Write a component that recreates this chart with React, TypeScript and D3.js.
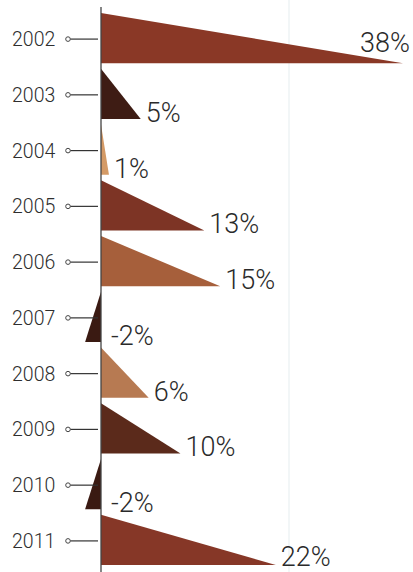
import React from "react";
import * as d3 from "d3";

const years = ["2002", "2003", "2004", "2005", "2006", "2007", "2008", "2009", "2010", "2011"];
const values = [38, 5, 1, 13, 15, -2, 6, 10, -2, 22];
const colors = ["#8a3826", "#3e1c14", "#d49a66", "#7d3425", "#a65f3b", "#3a1a12", "#b77a52", "#5b2a1b", "#3a1a12", "#863727"];

const W = 413;
const H = 572;

export default function App() {
  const x = d3.scaleLinear().domain([0, 38]).range([101, 403]);
  const y = d3.scaleBand<string>().domain(years).range([13, 565]).paddingInner(0.1).paddingOuter(0);
  const bw = y.bandwidth();
  const font = "Roboto, 'Liberation Sans', sans-serif";
  return (
    <svg width={W} height={H} style={{ position: "absolute", left: 0, top: 0, background: "#fff" }}>
      <rect x={0} y={0} width={W} height={H} fill="#ffffff" />
      <line x1={289} x2={289} y1={0} y2={H} stroke="#f2f6f7" strokeWidth={2} />
      {years.map((yr, i) => {
        const v = values[i];
        const top = y(yr)!;
        const bot = top + bw;
        const x0 = x(0);
        const xt = x(v);
        const path = d3.path();
        path.moveTo(x0, top);
        path.lineTo(xt, bot);
        path.lineTo(x0, bot);
        path.closePath();
        const label = `${v}%`;
        const overflow = xt + 60 > W;
        const lx = overflow ? 410 : Math.max(xt, x0) + (v < 0 ? 10 : 5);
        const ly = overflow ? bot - 11 : Math.min(bot + 3, H - 6);
        const cy = top + bw / 2 + 1;
        return (
          <g key={yr}>
            <path d={path.toString()} fill={colors[i]} />
            <text x={12} y={cy} dy="0.36em" fontFamily={font} fontWeight={300} fontSize={19.5} fill="#2e2e2e">
              {yr}
            </text>
            <circle cx={68} cy={cy} r={2.3} fill="#fff" stroke="#444" strokeWidth={1} />
            <line x1={70.5} x2={98} y1={cy} y2={cy} stroke="#333" strokeWidth={1.2} />
            <text
              x={lx}
              y={ly}
              textAnchor={overflow ? "end" : "start"}
              fontFamily={font}
              fontWeight={300}
              fontSize={27}
              fill="#2a2a2a"
            >
              {label}
            </text>
          </g>
        );
      })}
      <line x1={101} x2={101} y1={7} y2={H} stroke="#444" strokeWidth={1.3} />
    </svg>
  );
}
